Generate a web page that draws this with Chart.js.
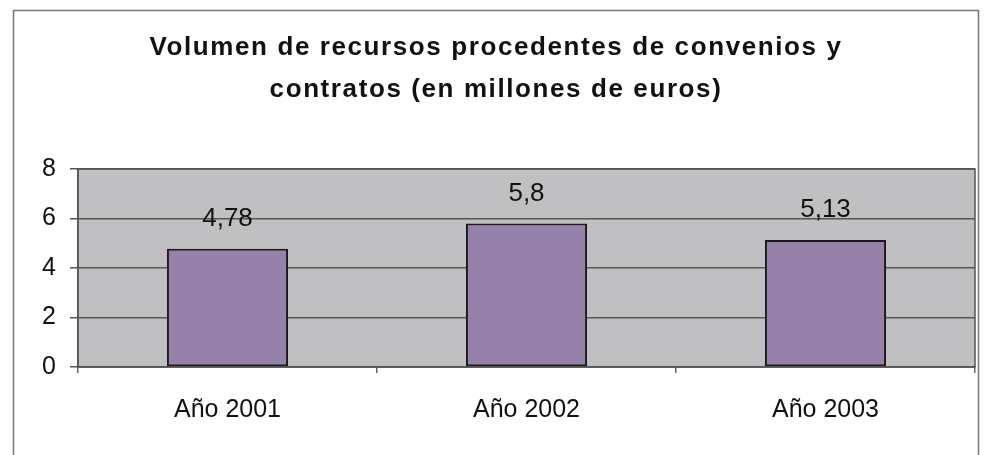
<!DOCTYPE html>
<html>
<head>
<meta charset="utf-8">
<style>
  html, body { margin: 0; padding: 0; background: #ffffff; }
  #wrap { position: relative; width: 985px; height: 455px; }
  canvas { display: block; }
</style>
<script src="https://cdn.jsdelivr.net/npm/chart.js@4.4.1/dist/chart.umd.min.js"></script>
</head>
<body>
<div id="wrap"><canvas id="c" width="985" height="455"></canvas></div>
<script>
const titleLines = ["Volumen de recursos procedentes de convenios y", "contratos (en millones de euros)"];
const categories = ["Año 2001", "Año 2002", "Año 2003"];
const values = [4.78, 5.8, 5.13];
const valueLabels = ["4,78", "5,8", "5,13"];
const yTicks = [0, 2, 4, 6, 8];

const FONT = "'Liberation Sans', Arial, sans-serif";

const framePlugin = {
  id: 'frame',
  beforeDraw(chart) {
    const ctx = chart.ctx;
    const a = chart.chartArea;
    ctx.save();
    ctx.fillStyle = '#ffffff';
    ctx.fillRect(0, 0, chart.width, chart.height);
    ctx.strokeStyle = '#7a7a7a';
    ctx.lineWidth = 1.5;
    ctx.beginPath();
    ctx.moveTo(13.5, chart.height + 5);
    ctx.lineTo(13.5, 10.5);
    ctx.lineTo(978.5, 10.5);
    ctx.lineTo(978.5, chart.height + 5);
    ctx.stroke();
    ctx.fillStyle = '#c0c0c2';
    ctx.fillRect(a.left, a.top, a.right - a.left, a.bottom - a.top);
    ctx.restore();
  },
  afterDraw(chart) {
    const ctx = chart.ctx;
    const a = chart.chartArea;
    ctx.save();
    ctx.strokeStyle = '#555555';
    ctx.lineWidth = 1.5;
    ctx.strokeRect(a.left, a.top, a.right - a.left, a.bottom - a.top);
    ctx.fillStyle = '#111111';
    ctx.font = "bold 26px " + FONT;
    ctx.letterSpacing = '1.6px';
    ctx.textAlign = 'center';
    ctx.textBaseline = 'middle';
    ctx.fillText(titleLines[0], 496, 48);
    ctx.fillText(titleLines[1], 496, 90);
    ctx.restore();
  }
};

const labelPlugin = {
  id: 'vlabels',
  afterDatasetsDraw(chart) {
    const ctx = chart.ctx;
    const meta = chart.getDatasetMeta(0);
    ctx.save();
    ctx.fillStyle = '#111111';
    ctx.font = "26px " + FONT;
    ctx.textAlign = 'center';
    ctx.textBaseline = 'middle';
    meta.data.forEach((bar, i) => {
      ctx.fillText(valueLabels[i], bar.x, bar.y - 30);
    });
    ctx.restore();
  }
};

new Chart(document.getElementById('c'), {
  type: 'bar',
  data: {
    labels: categories,
    datasets: [{
      data: values,
      backgroundColor: '#9681aa',
      borderColor: '#1a1a1a',
      borderWidth: 2,
      borderSkipped: false,
      categoryPercentage: 1.0,
      barPercentage: 0.405
    }]
  },
  options: {
    responsive: false,
    animation: false,
    devicePixelRatio: 1,
    layout: { padding: { top: 169, right: 10, left: 0, bottom: 0 } },
    plugins: {
      legend: { display: false },
      title: { display: false },
      tooltip: { enabled: false }
    },
    scales: {
      x: {
        offset: true,
        grid: {
          offset: true,
          drawOnChartArea: false,
          drawTicks: true,
          tickLength: 6,
          color: '#666666',
          lineWidth: 1.5
        },
        border: { display: true, color: '#555555', width: 1.5 },
        ticks: {
          color: '#111111',
          font: { family: FONT, size: 25 },
          padding: 22
        },
        afterFit(scale) { scale.height = 88; }
      },
      y: {
        min: 0,
        max: 8,
        afterBuildTicks(scale) { scale.ticks = yTicks.map(v => ({ value: v })); },
        grid: {
          color: '#555555',
          lineWidth: 1.5,
          tickLength: 8
        },
        border: { display: true, color: '#555555', width: 1.5 },
        ticks: {
          color: '#111111',
          font: { family: FONT, size: 25 },
          padding: 14
        },
        afterFit(scale) { scale.width = 78; }
      }
    }
  },
  plugins: [framePlugin, labelPlugin]
});
</script>
</body>
</html>
